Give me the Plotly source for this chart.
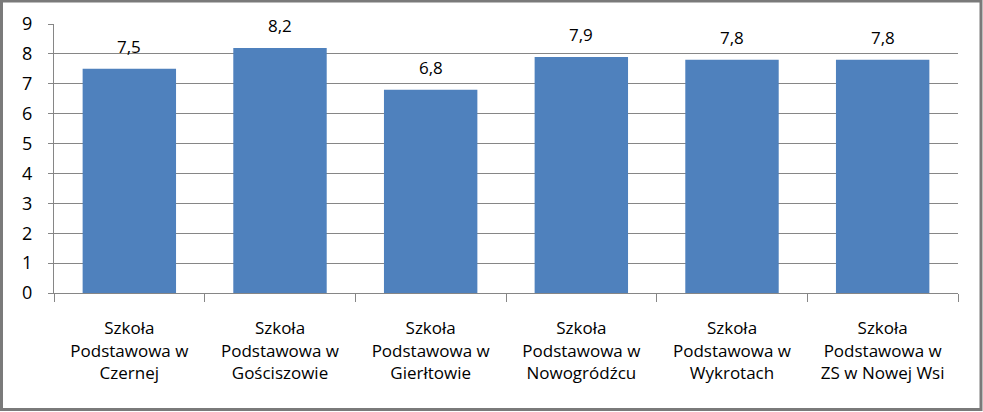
import plotly.graph_objects as go

# school names (category labels) and the average scores
schools = ["Szkoła<br>Podstawowa w<br>Czernej",
           "Szkoła<br>Podstawowa w<br>Gościszowie",
           "Szkoła<br>Podstawowa w<br>Gierłtowie",
           "Szkoła<br>Podstawowa w<br>Nowogródźcu",
           "Szkoła<br>Podstawowa w<br>Wykrotach",
           "Szkoła<br>Podstawowa w<br>ZS w Nowej Wsi"]
scores = [7.5, 8.2, 6.8, 7.9, 7.8, 7.8]
y_ticks = [0, 1, 2, 3, 4, 5, 6, 7, 8, 9]

W, H = 983, 412
L, R, T, B = 54, 25, 24, 119
pw, ph = W - L - R, H - T - B

fig = go.Figure()
fig.add_trace(go.Bar(x=schools, y=scores,
                     marker=dict(color="#4f81bd", line=dict(width=0)),
                     width=0.62, hoverinfo="skip"))

# value labels above the bars (comma as decimal separator)
for s, v in zip(schools, scores):
    fig.add_annotation(x=s, y=v, text=f"{v:.1f}".replace(".", ","),
                       showarrow=False, yanchor="bottom", yshift=9,
                       font=dict(size=17, color="#000000"))

fig.update_layout(
    width=W, height=H,
    margin=dict(l=L, r=R, t=T, b=B),
    paper_bgcolor="white", plot_bgcolor="white",
    showlegend=False,
    font=dict(family="Open Sans", color="#000000"),
)
fig.update_xaxes(showline=True, linecolor="#868686", linewidth=1,
                 ticks="outside", tickson="boundaries", ticklen=8, tickcolor="#868686",
                 tickfont=dict(size=17), ticklabelstandoff=20, showgrid=False)
fig.update_yaxes(range=[0, 9], tickvals=y_ticks, showline=True, linecolor="#868686",
                 ticks="outside", ticklen=5, tickcolor="#868686",
                 showgrid=True, gridcolor="#868686", gridwidth=1,
                 tickfont=dict(size=18), ticklabelstandoff=12, zeroline=False)

# outer frame of the chart (pixel positions converted to paper fractions)
def px_x(p):
    return (p - L) / pw

def px_y(p):
    return (H - B - p) / ph

fig.add_shape(type="rect", xref="paper", yref="paper",
              x0=px_x(1.5), x1=px_x(981), y0=px_y(409.5), y1=px_y(1),
              line=dict(color="#7a7a7a", width=3), fillcolor="rgba(0,0,0,0)")

# page body has a default margin; remove it so the figure sits at the window corner
fig.write_html("out.html", config={"displayModeBar": False},
               post_script="document.body.style.margin='0';")
